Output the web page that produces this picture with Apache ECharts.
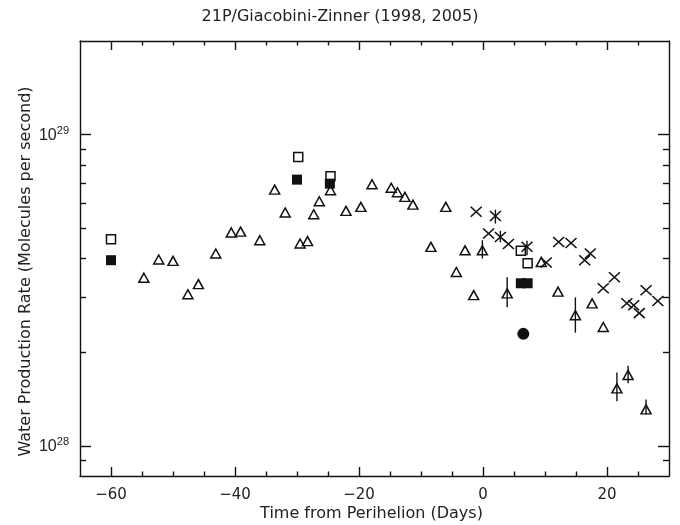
<!DOCTYPE html>
<html>
<head>
<meta charset="utf-8">
<script src="https://cdn.jsdelivr.net/npm/echarts@6/dist/echarts.min.js"></script>
<style>html,body{margin:0;padding:0;background:#fff}#c{width:680px;height:525px}</style>
</head>
<body>
<div id="c"></div>
<script>
// ---- data (water production rate in units of 1e28 molecules/s) ----
const triX = [-54.7,-52.3,-50.0,-47.6,-45.9,-43.1,-40.6,-39.1,-36.0,-33.6,-31.9,-29.5,-28.3,-27.3,-26.4,-24.6,-22.1,-19.7,-17.9,-14.8,-13.8,-12.6,-11.3,-8.4,-6.0,-4.3,-2.9,-1.5,-0.1,3.9,9.4,12.1,14.9,17.6,19.4,21.6,23.4,26.3];
const triY = [3.47,3.97,3.93,3.07,3.31,4.15,4.85,4.88,4.58,6.66,5.62,4.47,4.55,5.55,6.11,6.63,5.69,5.86,6.93,6.75,6.53,6.31,5.96,4.36,5.86,3.62,4.25,3.05,4.25,3.09,3.90,3.13,2.63,2.87,2.41,1.53,1.69,1.31];
const triErrX = [-0.1,3.9,14.9,21.6,23.4,26.3];
const triErrLo = [4.0,2.79,2.31,1.39,1.59,1.26];
const triErrHi = [4.58,3.48,3.0,1.72,1.81,1.41];

const openSqX = [-60.0,-29.8,-24.6,6.1,7.2];
const openSqY = [4.61,8.48,7.35,4.24,3.86];
const fillSqX = [-60.0,-30.0,-24.7,6.1,7.2];
const fillSqY = [3.95,7.17,6.96,3.33,3.33];
const circX = [6.5];
const circY = [2.29];

const crossX = [-1.1,2.0,0.9,2.8,4.1,7.1,10.2,12.2,14.2,16.4,17.3,19.4,21.2,23.2,24.3,25.2,26.3,28.2];
const crossY = [5.65,5.48,4.81,4.69,4.45,4.36,3.88,4.52,4.49,3.95,4.15,3.21,3.48,2.87,2.83,2.67,3.16,2.92];
const crossErrX = [2.0,2.8,7.1];
const crossErrLo = [5.18,4.51,4.10];
const crossErrHi = [5.74,4.91,4.56];

const UNIT = 1e28;
const xMajor = [-60,-40,-20,0,20];
const xMinor = [-55,-50,-45,-35,-30,-25,-15,-10,-5,5,10,15,25];
const yMajor = [1e28,1e29];
const yMinor = [9e27,2e28,3e28,4e28,5e28,6e28,7e28,8e28,9e28];
const yMin = 8e27, yMax = 2e29;

// ---- build ----
const pts = (xs, ys) => xs.map((x,i)=>[x, ys[i]*UNIT]);
const errs = (xs, lo, hi) => xs.map((x,i)=>[x, lo[i]*UNIT, hi[i]*UNIT]);
const lg = v => Math.log10(v);
const INK = '#111';
const FRAME = '#111';
const axFont = 'DejaVu Sans';

function xAx(pos, ticks, len, withLine, withLabel) {
  return {
    type:'value', position:pos, min:-65, max:30, gridIndex:0,
    axisLine:{show:withLine, onZero:false, lineStyle:{color:FRAME, width:1.4}},
    axisTick:{show:true, inside:true, length:len, customValues:ticks, lineStyle:{color:FRAME, width:1.4}},
    axisLabel:{show:withLabel, customValues:withLabel?xMajor:undefined, margin:12,
      fontFamily:axFont, fontSize:15, color:'#222',
      formatter:v=> (v<0?'\u2212'+Math.abs(v):String(v))},
    splitLine:{show:false}
  };
}
function yAx(pos, ticks, len, withLine, withLabel) {
  return {
    type:'value', position:pos, min:lg(yMin), max:lg(yMax), gridIndex:0,
    axisLine:{show:withLine, onZero:false, lineStyle:{color:FRAME, width:1.4}},
    axisTick:{show:true, inside:true, length:len, customValues:ticks.map(lg), lineStyle:{color:FRAME, width:1.4}},
    axisLabel:{show:withLabel, customValues:withLabel?yMajor.map(lg):undefined, margin:11,
      formatter:v=> '{a|10}{s|' + Math.round(v) + '}',
      rich:{
        a:{fontFamily:'Liberation Sans', fontSize:16, color:'#222', verticalAlign:'bottom'},
        s:{fontFamily:'Liberation Sans', fontSize:11, color:'#222', verticalAlign:'top', padding:[0,0,7,0]}
      }},
    splitLine:{show:false}
  };
}

const xAxes = [
  Object.assign(xAx('bottom', xMajor, 9, true, true), {
    name:'Time from Perihelion (Days)', nameLocation:'middle', nameGap:30, nameMoveOverlap:false,
    nameTextStyle:{fontFamily:axFont, fontSize:16, color:'#222', padding:[0,6,0,0]}
  }),
  xAx('bottom', xMinor, 4.5, false, false),
  xAx('top', xMajor, 9, true, false),
  xAx('top', xMinor, 4.5, false, false)
];
const yAxes = [
  { type:'log', logBase:10, min:yMin, max:yMax, position:'left', gridIndex:0,
    axisLine:{show:true, onZero:false, lineStyle:{color:FRAME, width:1.4}}, axisTick:{show:false},
    axisLabel:{show:false}, splitLine:{show:false}, minorTick:{show:false} },
  Object.assign(yAx('left', yMajor, 11, false, true), {
    name:'Water Production Rate (Molecules per second)', nameLocation:'middle', nameGap:46, nameMoveOverlap:false,
    nameTextStyle:{fontFamily:axFont, fontSize:16, color:'#222', padding:[0,26,0,0]}
  }),
  yAx('left', yMinor, 6, false, false),
  yAx('right', yMajor, 11, true, false),
  yAx('right', yMinor, 6, false, false)
];

const openStyle = {color:'rgba(0,0,0,0)', borderColor:INK, borderWidth:1.5, opacity:1};
const errRender = (params, api) => {
  const x = api.value(0);
  const p1 = api.coord([x, api.value(1)]);
  const p2 = api.coord([x, api.value(2)]);
  return {type:'line', shape:{x1:p1[0], y1:p1[1], x2:p2[0], y2:p2[1]}, style:{stroke:INK, lineWidth:1.4}};
};

const option = {
  animation:false,
  backgroundColor:'#fff',
  title:{text:'21P/Giacobini-Zinner (1998, 2005)', left:'center', top:9, padding:0,
    textStyle:{fontFamily:'DejaVu Sans', fontSize:16, fontWeight:'normal', color:'#222'}},
  grid:{left:80, right:11, top:41, bottom:49, containLabel:false, outerBoundsMode:'none'},
  xAxis:xAxes,
  yAxis:yAxes,
  series:[
    {type:'custom', xAxisIndex:0, yAxisIndex:0, renderItem:errRender, data:errs(triErrX, triErrLo, triErrHi), silent:true, z:2},
    {type:'custom', xAxisIndex:0, yAxisIndex:0, renderItem:errRender, data:errs(crossErrX, crossErrLo, crossErrHi), silent:true, z:2},
    {type:'scatter', xAxisIndex:0, yAxisIndex:0, symbol:'triangle', symbolSize:[10,9], itemStyle:openStyle, data:pts(triX, triY), silent:true, z:3},
    {type:'scatter', xAxisIndex:0, yAxisIndex:0, symbol:'rect', symbolSize:9, itemStyle:openStyle, data:pts(openSqX, openSqY), silent:true, z:3},
    {type:'scatter', xAxisIndex:0, yAxisIndex:0, symbol:'rect', symbolSize:10, itemStyle:{color:INK, opacity:1}, data:pts(fillSqX, fillSqY), silent:true, z:4},
    {type:'scatter', xAxisIndex:0, yAxisIndex:0, symbol:'circle', symbolSize:12, itemStyle:{color:INK, opacity:1}, data:pts(circX, circY), silent:true, z:4},
    {type:'scatter', xAxisIndex:0, yAxisIndex:0, symbol:'path://M0 0L11 10M11 0L0 10', symbolSize:[11,10],
      itemStyle:{color:'rgba(0,0,0,0)', borderColor:INK, borderWidth:1.5, opacity:1}, data:pts(crossX, crossY), silent:true, z:3}
  ]
};
const chart = echarts.init(document.getElementById('c'), null, {renderer:'canvas'});
chart.setOption(option);
</script>
</body>
</html>
